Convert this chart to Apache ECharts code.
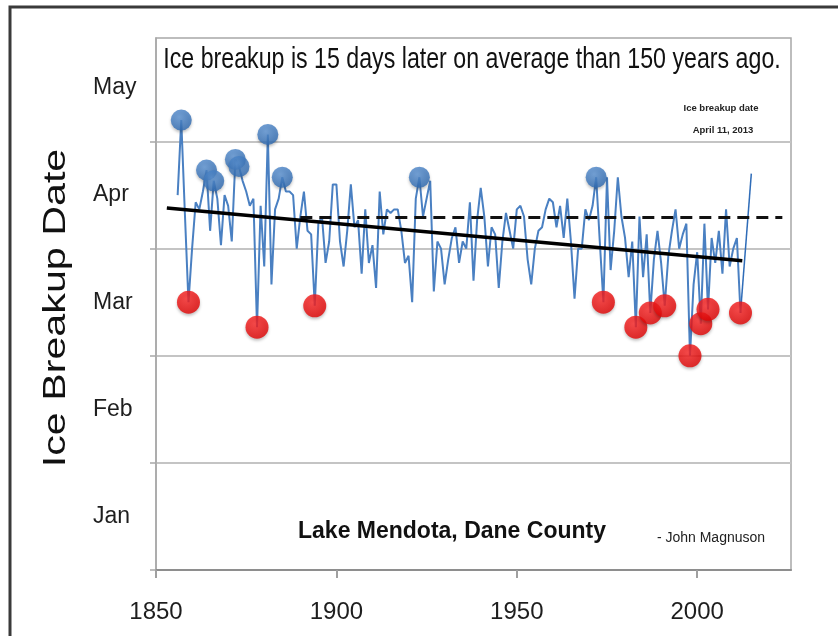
<!DOCTYPE html>
<html>
<head>
<meta charset="utf-8">
<script src="https://cdn.jsdelivr.net/npm/echarts@6/dist/echarts.min.js"></script>
<style>html,body{margin:0;padding:0;background:#fff}#c{width:838px;height:636px}</style>
</head>
<body>
<div id="c"></div>
<script>
// ---- data (y = days after Jan 1, chart scale: one month = 30 days) ----
const firstYear = 1856;
const breakupDay = [
  105,126,100,75,90,103,101,106,112,95,109,104,91,105,      // 1856-1869
  102,92,115,113,109,106,102,104,68,102,                    // 1870-1879
  85,122,80,101,104,110,106,106,105,90,                     // 1880-1889
  99,106,95,94,74,97,99,86,92,108,                          // 1890-1899
  108,92,85,95,108,96,98,83,101,86,                         // 1900-1909
  91,79,106,94,101,100,101,101,95,86,                       // 1910-1919
  88,75,104,110,99,104,109,78,92,90,                        // 1920-1929
  80,87,93,96,86,92,90,103,81,98,                           // 1930-1939
  107,99,85,96,94,79,92,100,95,90,                          // 1940-1949
  101,102,99,87,80,90,95,96,101,104,                        // 1950-1959
  103,96,102,93,104,92,76,90,90,101,                        // 1960-1969
  98,102,110,92,75,110,84,95,110,99,                        // 1970-1979
  93,82,92,68,99,82,94,72,87,95,                            // 1980-1989
  86,74,88,95,101,90,94,97,60,80,                           // 1990-1999
  89,69,97,73,93,86,95,83,101,85,                           // 2000-2009
  90,93,72                                                  // 2010-2012
];
const lateYears  = [1857, 1864, 1866, 1872, 1873, 1881, 1885, 1923, 1972];
const earlyYears = [1859, 1878, 1894, 1974, 1983, 1987, 1991, 1998, 2001, 2003, 2012];
const trendLine  = [[1853, 101.4], [2012.5, 86.6]];
const averageNow = [[1890, 98.7], [2023.6, 98.7]];
const breakup2013 = [[2012, 72], [2015, 111]];
const monthNames = ['Jan', 'Feb', 'Mar', 'Apr', 'May'];
const monthCenters = [15, 45, 75, 105, 135];
const monthStarts = [0, 30, 60, 90, 120];
const yearTicks = [1850, 1900, 1950, 2000];

const linePts = breakupDay.map((v, i) => [firstYear + i, v]);
const dayOf = y => breakupDay[y - firstYear];
const latePts = lateYears.map(y => [y, dayOf(y)]);
const earlyPts = earlyYears.map(y => [y, dayOf(y)]);

const SANS = "'Liberation Sans',Arial,sans-serif";

const chart = echarts.init(document.getElementById('c'));
chart.setOption({
  animation: false,
  backgroundColor: '#fff',
  grid: { left: 156, right: 47, top: 38, bottom: 66, show: true, borderColor: '#a8a8a8', borderWidth: 1.5 },
  xAxis: {
    type: 'value', min: 1850, max: 2026,
    axisLine: { show: true, lineStyle: { color: '#8e8e8e', width: 2 } },
    axisTick: { show: true, customValues: yearTicks, length: 8, lineStyle: { color: '#a0a0a0', width: 2 } },
    axisLabel: { customValues: yearTicks, fontFamily: SANS, fontSize: 24, color: '#1e1e1e', margin: 30,
      formatter: v => String(v) },
    splitLine: { show: false }
  },
  yAxis: {
    type: 'value', min: 0, max: 149, interval: 30,
    axisLine: { show: true, lineStyle: { color: '#a8a8a8', width: 1.5 } },
    axisTick: { show: true, customValues: monthStarts, length: 6, lineStyle: { color: '#a8a8a8', width: 1.5 } },
    axisLabel: {
      customValues: monthCenters, align: 'left', margin: 63,
      fontFamily: SANS, fontSize: 23, color: '#1e1e1e',
      formatter: v => monthNames[monthCenters.indexOf(v)] || ''
    },
    splitLine: { show: true, lineStyle: { color: '#c4c4c4', width: 2 } }
  },
  graphic: [
    { type: 'rect', shape: { x: 10, y: 7, width: 840, height: 640 }, style: { fill: 'none', stroke: '#3a3a3a', lineWidth: 3 }, z: 100 },
    { type: 'text', x: 472, y: 60, scaleY: 1.25, style: { text: 'Ice breakup is 15 days later on average than 150 years ago.', font: '23.2px ' + SANS, fill: '#111', textAlign: 'center', textVerticalAlign: 'middle' } },
    { type: 'text', x: 56, y: 308, rotation: Math.PI / 2, scaleX: 1.33, style: { text: 'Ice Breakup Date', font: '31px ' + SANS, fill: '#111', textAlign: 'center', textVerticalAlign: 'middle' } },
    { type: 'text', x: 452, y: 532, style: { text: 'Lake Mendota, Dane County', font: 'bold 23px ' + SANS, fill: '#111', textAlign: 'center', textVerticalAlign: 'middle' } },
    { type: 'text', x: 711, y: 538, style: { text: '- John Magnuson', font: '14px ' + SANS, fill: '#222', textAlign: 'center', textVerticalAlign: 'middle' } },
    { type: 'text', x: 721, y: 108, style: { text: 'Ice breakup date', font: 'bold 9.5px ' + SANS, fill: '#222', textAlign: 'center', textVerticalAlign: 'middle' } },
    { type: 'text', x: 723, y: 130, style: { text: 'April 11, 2013', font: 'bold 9.5px ' + SANS, fill: '#222', textAlign: 'center', textVerticalAlign: 'middle' } }
  ],
  series: [
    { type: 'line', data: linePts, symbol: 'none', lineStyle: { color: '#4a80c2', width: 2 }, z: 2 },
    { type: 'line', data: breakup2013, symbol: 'none', lineStyle: { color: '#2f6cb8', width: 1.5 }, z: 2 },
    { type: 'line', data: averageNow, symbol: 'none', lineStyle: { color: '#111', width: 3, type: [12, 7] }, z: 3 },
    { type: 'line', data: trendLine, symbol: 'none', lineStyle: { color: '#000', width: 3.5 }, z: 3 },
    { type: 'scatter', data: latePts, symbolSize: 21, z: 4,
      itemStyle: { color: { type: 'radial', x: 0.4, y: 0.35, r: 0.7, colorStops: [{ offset: 0, color: '#5d95d6' }, { offset: 1, color: '#2c68b0' }] },
        shadowBlur: 3, shadowOffsetY: 2, shadowColor: 'rgba(0,0,0,0.3)' } },
    { type: 'scatter', data: earlyPts, symbolSize: 23, z: 4,
      itemStyle: { color: { type: 'radial', x: 0.4, y: 0.35, r: 0.7, colorStops: [{ offset: 0, color: '#ff2a2a' }, { offset: 1, color: '#e00000' }] },
        shadowBlur: 3, shadowOffsetY: 2, shadowColor: 'rgba(0,0,0,0.3)' } }
  ]
});
</script>
</body>
</html>
